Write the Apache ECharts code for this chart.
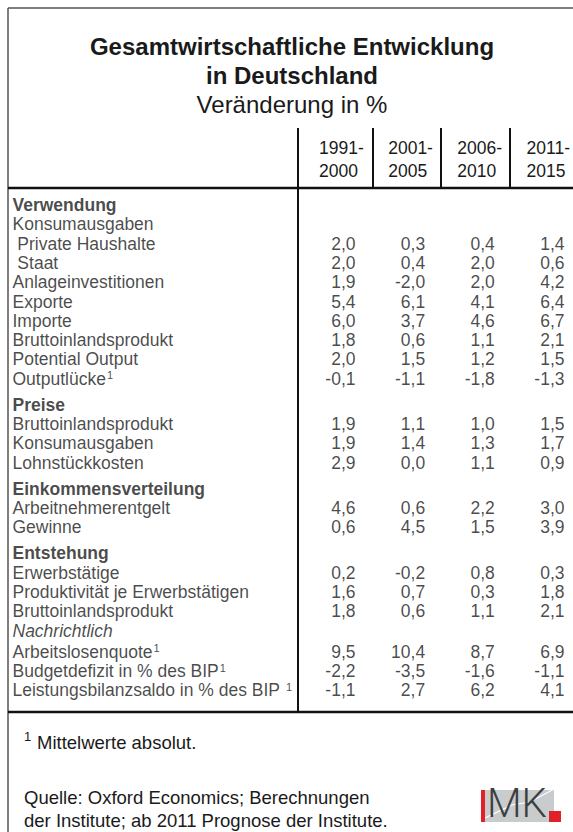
<!DOCTYPE html>
<html>
<head>
<meta charset="utf-8">
<style>
  html, body { margin: 0; padding: 0; background: #fff; }
  #tab { width: 573px; height: 832px; }
</style>
<script src="https://cdn.jsdelivr.net/npm/echarts@6/dist/echarts.min.js"></script>
</head>
<body>
<div id="tab"></div>
<script>
// Tabellenzeilen
var rowLabels = [
    'Verwendung', 'Konsumausgaben', ' Private Haushalte', ' Staat', 'Anlageinvestitionen',
    'Exporte', 'Importe', 'Bruttoinlandsprodukt', 'Potential Output', 'Outputlücke',
    'Preise', 'Bruttoinlandsprodukt', 'Konsumausgaben', 'Lohnstückkosten',
    'Einkommensverteilung', 'Arbeitnehmerentgelt', 'Gewinne',
    'Entstehung', 'Erwerbstätige', 'Produktivität je Erwerbstätigen', 'Bruttoinlandsprodukt',
    'Nachrichtlich', 'Arbeitslosenquote', 'Budgetdefizit in % des BIP', 'Leistungsbilanzsaldo in % des BIP '
];
// section = fett, italic = kursiv, note = mit Fußnote 1
var rowStyle = [
    'section', '', '', '', '', '', '', '', '', 'note',
    'section', '', '', '',
    'section', '', '',
    'section', '', '', '',
    'italic', 'note', 'note', 'note'
];
var periods = ['1991-\n2000', '2001-\n2005', '2006-\n2010', '2011-\n2015'];

// Veränderung in %
var v1991 = [null, null, 2.0, 2.0, 1.9, 5.4, 6.0, 1.8, 2.0, -0.1, null, 1.9, 1.9, 2.9, null, 4.6, 0.6, null, 0.2, 1.6, 1.8, null, 9.5, -2.2, -1.1];
var v2001 = [null, null, 0.3, 0.4, -2.0, 6.1, 3.7, 0.6, 1.5, -1.1, null, 1.1, 1.4, 0.0, null, 0.6, 4.5, null, -0.2, 0.7, 0.6, null, 10.4, -3.5, 2.7];
var v2006 = [null, null, 0.4, 2.0, 2.0, 4.1, 4.6, 1.1, 1.2, -1.8, null, 1.0, 1.3, 1.1, null, 2.2, 1.5, null, 0.8, 0.3, 1.1, null, 8.7, -1.6, 6.2];
var v2011 = [null, null, 1.4, 0.6, 4.2, 6.4, 6.7, 2.1, 1.5, -1.3, null, 1.5, 1.7, 0.9, null, 3.0, 3.9, null, 0.3, 1.8, 2.1, null, 6.9, -1.1, 4.1];
var columns = [v1991, v2001, v2006, v2011];

var ROW_H = 19.3;
var FIRST_Y = 205;
var FS = 17.5;
var FS_FOOT = 18.5;
var TXT = '#1a1a1a';
var FONT = 'Liberation Sans, Arial, sans-serif';

// Zeilenposition mit etwas Abstand vor jedem Abschnitt
function rowPos(i) {
    var p = i;
    for (var j = 1; j <= i; j++) {
        if (rowStyle[j] === 'section') p += 0.35;
        if (rowStyle[j - 1] === 'italic') p += 0.1;
    }
    return p;
}

function fmt(v) {
    return v.toFixed(1).replace('.', ',');
}

var myChart = echarts.init(document.getElementById('tab'), null, {renderer: 'svg'});

var labelSeries = {
    type: 'scatter',
    xAxisIndex: 0,
    yAxisIndex: 0,
    symbolSize: 1,
    itemStyle: {color: 'transparent'},
    clip: false,
    silent: true,
    data: rowLabels.map(function (t, i) {
        var st = rowStyle[i];
        return {
            value: [0, rowPos(i)],
            name: t,
            label: {
                fontWeight: st === 'section' ? 'bold' : 'normal',
                fontStyle: st === 'italic' ? 'italic' : 'normal'
            }
        };
    }),
    label: {
        show: true,
        position: 'right',
        distance: 0,
        fontSize: FS,
        fontFamily: FONT,
        color: TXT,
        lineHeight: 18,
        formatter: function (p) {
            return rowStyle[p.dataIndex] === 'note' ? p.name + '{sup|1}' : p.name;
        },
        rich: {
            sup: {fontSize: 11, lineHeight: 11, verticalAlign: 'top', color: TXT, fontFamily: FONT, padding: [0, 0, 0, 1]}
        }
    }
};

var valueSeries = columns.map(function (col, c) {
    var data = [];
    col.forEach(function (v, i) {
        if (v !== null) data.push([c, rowPos(i), v]);
    });
    return {
        name: periods[c],
        type: 'scatter',
        xAxisIndex: 1,
        yAxisIndex: 1,
        symbolSize: 1,
        itemStyle: {color: 'transparent'},
        clip: false,
        silent: true,
        data: data,
        label: {
            show: true,
            position: 'left',
            distance: 0,
            fontSize: FS,
            fontFamily: FONT,
            color: TXT,
            formatter: function (p) { return fmt(p.value[2]); }
        }
    };
});

var lineStyle = {stroke: '#111', lineWidth: 2.5};
var thin = {stroke: '#111', lineWidth: 2};

var option = {
    animation: false,
    textStyle: {fontFamily: FONT},
    grid: [
        {left: 12, width: 280, top: FIRST_Y - ROW_H, height: 27 * ROW_H},
        {left: 356, right: 8, top: FIRST_Y - ROW_H, height: 27 * ROW_H},
        {left: 319, right: 45, top: 188, height: 10}
    ],
    xAxis: [
        {gridIndex: 0, type: 'value', min: 0, max: 1, show: false},
        {gridIndex: 1, type: 'value', min: 0, max: 3, show: false},
        {
            gridIndex: 2, type: 'value', min: 0, max: 3, interval: 1, position: 'top',
            axisLine: {show: false}, axisTick: {show: false}, splitLine: {show: false},
            axisLabel: {
                formatter: function (v) { return periods[v]; },
                align: 'left', fontSize: FS, lineHeight: 23, color: TXT, margin: 6, fontFamily: FONT
            }
        }
    ],
    yAxis: [
        {gridIndex: 0, type: 'value', inverse: true, min: -1, max: 26, show: false},
        {gridIndex: 1, type: 'value', inverse: true, min: -1, max: 26, show: false},
        {gridIndex: 2, type: 'value', show: false}
    ],
    graphic: [
        // Rahmen
        {type: 'line', shape: {x1: 8, y1: 8, x2: 573, y2: 8}, style: {stroke: '#555', lineWidth: 1.5}, silent: true},
        {type: 'line', shape: {x1: 8, y1: 8, x2: 8, y2: 832}, style: {stroke: '#555', lineWidth: 1.5}, silent: true},
        {type: 'line', shape: {x1: 8, y1: 188, x2: 573, y2: 188}, style: lineStyle, silent: true},
        {type: 'line', shape: {x1: 8, y1: 712, x2: 573, y2: 712}, style: lineStyle, silent: true},
        {type: 'line', shape: {x1: 298, y1: 128, x2: 298, y2: 712}, style: thin, silent: true},
        {type: 'line', shape: {x1: 373, y1: 128, x2: 373, y2: 188}, style: thin, silent: true},
        {type: 'line', shape: {x1: 441, y1: 128, x2: 441, y2: 188}, style: thin, silent: true},
        {type: 'line', shape: {x1: 510, y1: 128, x2: 510, y2: 188}, style: thin, silent: true},
        // Titel
        {type: 'text', x: 292, y: 46, style: {text: 'Gesamtwirtschaftliche Entwicklung', fontSize: 24, fontWeight: 'bold', fontFamily: FONT, fill: TXT, align: 'center', verticalAlign: 'middle'}},
        {type: 'text', x: 292, y: 75, style: {text: 'in Deutschland', fontSize: 24, fontWeight: 'bold', fontFamily: FONT, fill: TXT, align: 'center', verticalAlign: 'middle'}},
        {type: 'text', x: 292, y: 104, style: {text: 'Veränderung in %', fontSize: 24, fontFamily: FONT, fill: TXT, align: 'center', verticalAlign: 'middle'}},
        // Fußnote und Quelle
        {type: 'text', x: 24, y: 736, style: {text: '1', fontSize: 13, fontFamily: FONT, fill: TXT, verticalAlign: 'middle'}},
        {type: 'text', x: 37, y: 742, style: {text: 'Mittelwerte absolut.', fontSize: FS_FOOT, fontFamily: FONT, fill: TXT, verticalAlign: 'middle'}},
        {type: 'text', x: 24, y: 797, style: {text: 'Quelle: Oxford Economics; Berechnungen', fontSize: FS_FOOT, fontFamily: FONT, fill: TXT, verticalAlign: 'middle'}},
        {type: 'text', x: 24, y: 820, style: {text: 'der Institute; ab 2011 Prognose der Institute.', fontSize: FS_FOOT, fontFamily: FONT, fill: TXT, verticalAlign: 'middle'}},
        // IMK Logo
        {type: 'rect', shape: {x: 481, y: 790, width: 73, height: 32}, style: {fill: '#c9cccd'}, silent: true},
        {type: 'polyline', shape: {points: [[485, 818], [512, 805], [530, 802], [554, 789]]}, style: {stroke: '#fff', lineWidth: 1.2, fill: null}, silent: true},
        {type: 'rect', shape: {x: 481, y: 790, width: 4, height: 32}, style: {fill: '#e2202a'}, silent: true},
        {type: 'text', x: 487, y: 823, style: {text: 'MK', fontSize: 40, fontFamily: 'Roboto, Liberation Sans, sans-serif', fontWeight: 300, fill: '#3c3f41', verticalAlign: 'bottom'}},
        {type: 'rect', shape: {x: 549, y: 811, width: 12, height: 11}, style: {fill: '#e2202a'}, silent: true}
    ],
    series: [labelSeries].concat(valueSeries)
};

myChart.setOption(option);
</script>
</body>
</html>
